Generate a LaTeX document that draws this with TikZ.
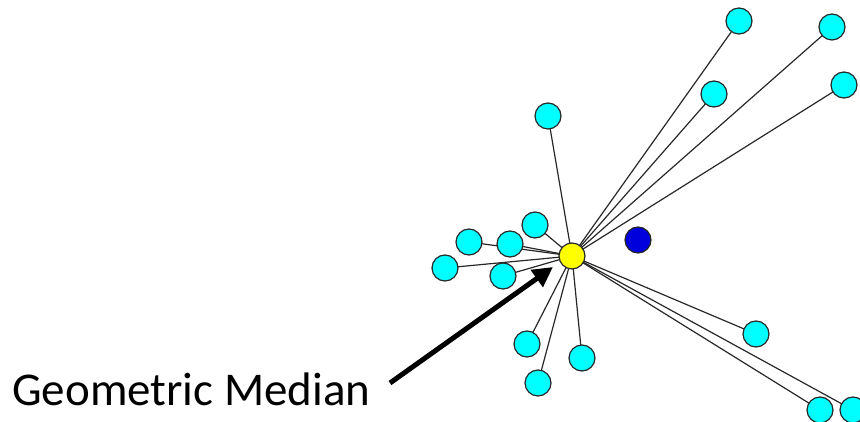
\documentclass[tikz,border=0pt]{standalone}
\usepackage{fontspec}
\setmainfont{Carlito}
\usetikzlibrary{arrows.meta}
\definecolor{leafc}{RGB}{0,255,255}
\definecolor{medc}{RGB}{255,255,0}
\definecolor{meanc}{RGB}{0,0,220}
\definecolor{linec}{RGB}{40,40,40}
\begin{document}
\begin{tikzpicture}[x=1pt,y=-1pt,
  leaf/.style={circle,draw=linec,line width=1.2pt,fill=leafc,minimum size=26pt,inner sep=0pt},
  med/.style={circle,draw=linec,line width=1.2pt,fill=medc,minimum size=26pt,inner sep=0pt},
  mean/.style={circle,draw=linec,line width=1.2pt,fill=meanc,minimum size=26pt,inner sep=0pt},
  edge/.style={draw=linec,line width=1.2pt}]
\useasboundingbox (0,0) rectangle (860,422);
\coordinate (c) at (572,256);
\foreach \n/\x/\y in {a/739/21,b/832/27,d/714/94,e/844/85,f/548/116,g/535/225,h/469/242,i/510/244,j/445/268,k/503/276,l/527/344,m/538/383,o/582/358,p/756/334,q/820/410,r/853/410}{
  \coordinate (p\n) at (\x,\y);
  \draw[edge] (c) -- (p\n);
}
\foreach \n in {a,b,d,e,f,g,h,i,j,k,l,m,o,p,q,r}{
  \node[leaf] (n\n) at (p\n) {};
}
\node[med] (ym) at (c) {};
\node[mean] (bm) at (638,240) {};
\node[anchor=base west,font=\fontsize{47}{56}\selectfont,inner sep=0pt] (lbl) at (12,405) {Geometric Median};
\coordinate (tail) at (390,383);
\coordinate (tip) at (553,267);
\draw[line width=5pt,-{Triangle[length=20pt,width=20pt]}] (tail) -- (tip);
\end{tikzpicture}
\end{document}
